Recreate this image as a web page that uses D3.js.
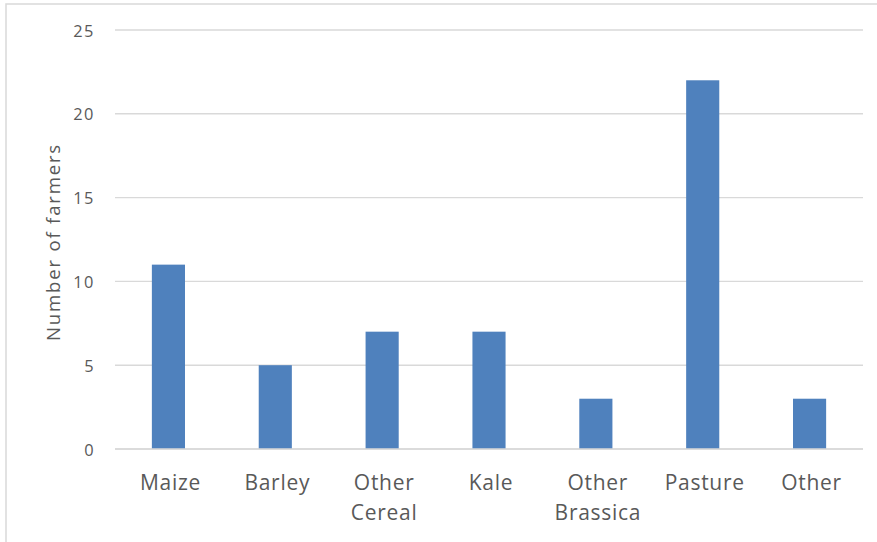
<!DOCTYPE html>
<html><head><meta charset="utf-8">
<script src="https://cdn.jsdelivr.net/npm/d3@7"></script>
<style>
html,body{margin:0;padding:0;background:#fff;}
svg{display:block;}
text{font-family:"Open Sans",sans-serif;fill:#595959;}
</style></head>
<body>
<svg id="chart" width="877" height="542"></svg>
<script>
const categories = [["Maize"],["Barley"],["Other","Cereal"],["Kale"],["Other","Brassica"],["Pasture"],["Other"]];
const values = [11, 5, 7, 7, 3, 22, 3];
const yTicks = [0, 5, 10, 15, 20, 25];
const yTitle = "Number of farmers";

const svg = d3.select("#chart");
const keys = categories.map(c => c.join(" "));
const x = d3.scaleBand().domain(keys).range([115, 863]).padding(0);
const y = d3.scaleLinear().domain([0, 25]).range([449, 30]);

// outer border
svg.append("path").attr("d", "M6,542V4H877")
  .attr("fill", "none").attr("stroke", "#d9d9d9").attr("stroke-width", 1.5);

// gridlines
svg.append("g").selectAll("line").data(yTicks).join("line")
  .attr("x1", 115).attr("x2", 863)
  .attr("y1", d => y(d)).attr("y2", d => y(d))
  .attr("stroke", "#d9d9d9").attr("stroke-width", 1.4);

// y tick labels
svg.append("g").selectAll("text").data(yTicks).join("text")
  .attr("x", 95).attr("y", d => y(d) + 6.5)
  .attr("text-anchor", "end")
  .style("font-size", "16.4px").style("letter-spacing", "1.5px")
  .text(d => d);

// bars
const bw = x.bandwidth() * 0.31;
svg.append("g").selectAll("rect").data(values).join("rect")
  .attr("x", (d, i) => x(keys[i]) + x.bandwidth() / 2 - bw / 2)
  .attr("width", bw)
  .attr("y", d => y(d))
  .attr("height", d => y(0) - y(d))
  .attr("fill", "#4f81bd");

// axis line on top
svg.append("line").attr("x1", 115).attr("x2", 863).attr("y1", y(0)).attr("y2", y(0))
  .attr("stroke", "#d9d9d9").attr("stroke-width", 1.4);

// category labels
const lab = svg.append("g").selectAll("text").data(categories).join("text")
  .attr("text-anchor", "middle")
  .attr("transform", (d, i) => `translate(${x(keys[i]) + x.bandwidth() / 2 + 2},490)`)
  .style("font-size", "21px").style("letter-spacing", "0.7px");
lab.selectAll("tspan").data(d => d).join("tspan")
  .attr("x", 0).attr("y", (d, j) => j * 30).text(d => d);

// y title
svg.append("text")
  .attr("transform", "translate(60,242) rotate(-90)")
  .attr("text-anchor", "middle")
  .style("font-size", "18.6px").style("letter-spacing", "1.8px")
  .text(yTitle);
</script>
</body></html>
